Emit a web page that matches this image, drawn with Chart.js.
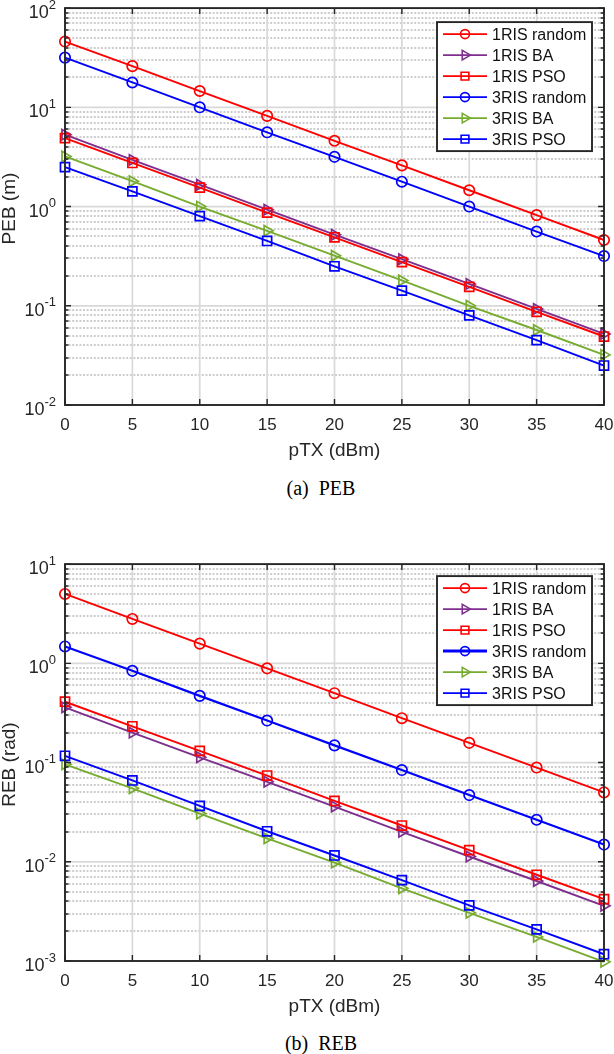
<!DOCTYPE html>
<html><head><meta charset="utf-8">
<script src="https://cdn.jsdelivr.net/npm/chart.js@4.4.0/dist/chart.umd.min.js"></script>
<style>
html,body{margin:0;padding:0;background:#fff;}
#wrap{position:relative;width:614px;height:1054px;overflow:hidden;background:#fff;}
.c{position:absolute;left:0;width:614px;height:470px;}
.cap{position:absolute;left:0;width:642px;text-align:center;font-family:"Liberation Serif","Times New Roman",serif;font-size:20px;color:#000;white-space:pre;}
</style></head><body>
<div id="wrap">
<div class="c" style="top:0"><canvas id="c1" width="614" height="470"></canvas></div>
<div class="cap" style="top:477px">(a)  PEB</div>
<div class="c" style="top:556px"><canvas id="c2" width="614" height="470"></canvas></div>
<div class="cap" style="top:1032px">(b)  REB</div>
</div>
<script>
// ---------- data ----------
const pTX = [0, 5, 10, 15, 20, 25, 30, 35, 40];
const xTicks = [0, 5, 10, 15, 20, 25, 30, 35, 40];
const xTitle = 'pTX (dBm)';
const seriesNames = ['1RIS random', '1RIS BA', '1RIS PSO', '3RIS random', '3RIS BA', '3RIS PSO'];

const peb1RISrandom = [46, 26, 14.6, 8.2, 4.6, 2.6, 1.46, 0.82, 0.46];
const peb1RISBA     = [5.3, 2.95, 1.66, 0.93, 0.52, 0.295, 0.166, 0.093, 0.052];
const peb1RISPSO    = [4.9, 2.75, 1.55, 0.87, 0.49, 0.275, 0.155, 0.087, 0.049];
const peb3RISrandom = [31.7, 17.8, 10.0, 5.6, 3.17, 1.78, 1.0, 0.56, 0.317];
const peb3RISBA     = [3.2, 1.8, 1.0, 0.57, 0.32, 0.18, 0.1, 0.057, 0.032];
const peb3RISPSO    = [2.5, 1.42, 0.8, 0.45, 0.25, 0.142, 0.08, 0.045, 0.025];

const reb1RISrandom = [5.0, 2.8, 1.58, 0.89, 0.5, 0.28, 0.158, 0.089, 0.05];
const reb1RISBA     = [0.36, 0.2, 0.113, 0.064, 0.036, 0.02, 0.0113, 0.0064, 0.0036];
const reb1RISPSO    = [0.41, 0.232, 0.131, 0.074, 0.041, 0.0232, 0.0131, 0.0074, 0.0042];
const reb3RISrandom = [1.48, 0.84, 0.47, 0.265, 0.149, 0.084, 0.047, 0.0265, 0.0149];
const reb3RISBA     = [0.096, 0.055, 0.0306, 0.0172, 0.0098, 0.0054, 0.00306, 0.00175, 0.00098];
const reb3RISPSO    = [0.117, 0.066, 0.0366, 0.0203, 0.01157, 0.00653, 0.00363, 0.00208, 0.00117];

const pebYExponents = [-2, -1, 0, 1, 2];
const rebYExponents = [-3, -2, -1, 0, 1];

// ---------- styles ----------
const FONT = '"Liberation Sans", Arial, Helvetica, sans-serif';
const INK = '#262626';
const seriesColors  = ['#FF0000', '#7E2F8E', '#FF0000', '#0000FF', '#77AC30', '#0000FF'];
const seriesMarkers = ['circle', 'triangle', 'rect', 'circle', 'triangle', 'rect'];
const seriesRadius  = [5.2, 6, 6.4, 5.2, 6, 6.4];

function buildDatasets(valueLists, lineWidths) {
  return valueLists.map((vals, i) => ({
    label: seriesNames[i],
    data: pTX.map((x, j) => ({ x: x, y: vals[j] })),
    borderColor: seriesColors[i],
    backgroundColor: 'rgba(0,0,0,0)',
    borderWidth: lineWidths[i],
    pointStyle: seriesMarkers[i],
    pointRotation: seriesMarkers[i] === 'triangle' ? 90 : 0,
    pointRadius: seriesRadius[i],
    pointBorderWidth: 1.7,
    pointBorderColor: seriesColors[i],
    pointBackgroundColor: 'rgba(0,0,0,0)',
    tension: 0,
    clip: false,
    order: valueLists.length - 1 - i
  }));
}

function drawMarker(ctx, style, cx, cy, r, color) {
  ctx.save();
  ctx.strokeStyle = color; ctx.lineWidth = 1.6; ctx.setLineDash([]);
  ctx.beginPath();
  if (style === 'circle') ctx.arc(cx, cy, r, 0, Math.PI * 2);
  else if (style === 'rect') { const s = r * Math.SQRT1_2; ctx.rect(cx - s, cy - s, 2 * s, 2 * s); }
  else { ctx.moveTo(cx + r, cy); ctx.lineTo(cx - r / 2, cy - r * 0.866); ctx.lineTo(cx - r / 2, cy + r * 0.866); ctx.closePath(); }
  ctx.stroke();
  ctx.restore();
}

const matlabAxes = {
  id: 'matlabAxes',
  beforeDatasetsDraw(chart, args, o) {
    const ctx = chart.ctx, a = chart.chartArea, xs = chart.scales.x, ys = chart.scales.y;
    ctx.save();
    ctx.beginPath(); ctx.rect(a.left, a.top, a.right - a.left, a.bottom - a.top); ctx.clip();
    // minor dotted y grid
    ctx.strokeStyle = '#bdbdbd'; ctx.lineWidth = 1.5; ctx.setLineDash([2, 1.6]);
    for (let e = o.expMin; e < o.expMax; e++) {
      for (let k = 2; k <= 9; k++) {
        const py = Math.round(ys.getPixelForValue(k * Math.pow(10, e)));
        ctx.beginPath(); ctx.moveTo(a.left, py); ctx.lineTo(a.right, py); ctx.stroke();
      }
    }
    // major grid
    ctx.setLineDash([]); ctx.strokeStyle = '#d9d9d9'; ctx.lineWidth = 1.7;
    for (let e = o.expMin; e <= o.expMax; e++) {
      const py = ys.getPixelForValue(Math.pow(10, e));
      ctx.beginPath(); ctx.moveTo(a.left, py); ctx.lineTo(a.right, py); ctx.stroke();
    }
    xs.ticks.forEach(t => {
      const px = xs.getPixelForValue(t.value);
      ctx.beginPath(); ctx.moveTo(px, a.top); ctx.lineTo(px, a.bottom); ctx.stroke();
    });
    ctx.restore();
  },
  afterDatasetsDraw(chart, args, o) {
    const ctx = chart.ctx, a = chart.chartArea, xs = chart.scales.x, ys = chart.scales.y;
    ctx.save();
    // inward ticks
    ctx.strokeStyle = INK; ctx.lineWidth = 1.4; ctx.setLineDash([]);
    for (let e = o.expMin; e <= o.expMax; e++) {
      const py = ys.getPixelForValue(Math.pow(10, e));
      ctx.beginPath();
      ctx.moveTo(a.left, py); ctx.lineTo(a.left + 6, py);
      ctx.moveTo(a.right, py); ctx.lineTo(a.right - 6, py);
      ctx.stroke();
      if (e < o.expMax) {
        for (let k = 2; k <= 9; k++) {
          const my = Math.round(ys.getPixelForValue(k * Math.pow(10, e)));
          ctx.beginPath();
          ctx.moveTo(a.left, my); ctx.lineTo(a.left + 3.5, my);
          ctx.moveTo(a.right, my); ctx.lineTo(a.right - 3.5, my);
          ctx.stroke();
        }
      }
    }
    xs.ticks.forEach(t => {
      const px = xs.getPixelForValue(t.value);
      ctx.beginPath();
      ctx.moveTo(px, a.bottom); ctx.lineTo(px, a.bottom - 6);
      ctx.moveTo(px, a.top); ctx.lineTo(px, a.top + 6);
      ctx.stroke();
    });
    // box
    ctx.lineWidth = 1.9;
    ctx.strokeRect(a.left, a.top, a.right - a.left, a.bottom - a.top);
    // x tick labels (from the scale's ticks)
    ctx.fillStyle = INK;
    ctx.font = '17px ' + FONT; ctx.textAlign = 'center'; ctx.textBaseline = 'middle';
    xs.ticks.forEach(t => {
      ctx.fillText(String(t.value), xs.getPixelForValue(t.value), a.bottom + 20);
    });
    // x title
    ctx.font = '19px ' + FONT;
    ctx.fillText(o.xTitle, (a.left + a.right) / 2, a.bottom + 46);
    // y tick labels 10^e
    o.exps.forEach(e => {
      const py = ys.getPixelForValue(Math.pow(10, e));
      const expStr = e < 0 ? '-' + Math.abs(e) : String(e);
      ctx.font = '13px ' + FONT;
      const ew = ctx.measureText(expStr).width;
      const right = a.left - 9;
      ctx.textAlign = 'left'; ctx.textBaseline = 'middle';
      ctx.fillText(expStr, right - ew, py - 3);
      ctx.font = '18px ' + FONT;
      ctx.textAlign = 'right';
      ctx.fillText('10', right - ew, py + 5);
    });
    // y title
    ctx.save();
    ctx.translate(10, (a.top + a.bottom) / 2 + 2);
    ctx.rotate(-Math.PI / 2);
    ctx.font = '19px ' + FONT; ctx.textAlign = 'center'; ctx.textBaseline = 'middle';
    ctx.fillText(o.yTitle, 0, 0);
    ctx.restore();
    // legend
    const lx = o.legendLeft, lw = o.legendWidth, rowH = 21;
    const ly = a.top + o.legendTopOffset;
    const n = chart.data.datasets.length;
    const lh = rowH * n + 3;
    ctx.fillStyle = '#fff';
    ctx.fillRect(lx, ly, lw, lh);
    ctx.strokeStyle = INK; ctx.lineWidth = 1.9;
    ctx.strokeRect(lx, ly, lw, lh);
    chart.data.datasets.forEach((ds, i) => {
      const cy = ly + 12 + i * rowH;
      ctx.strokeStyle = ds.borderColor; ctx.lineWidth = o.legendLineWidths[i];
      ctx.beginPath(); ctx.moveTo(lx + 6, cy); ctx.lineTo(lx + 50, cy); ctx.stroke();
      drawMarker(ctx, seriesMarkers[i], lx + 28, cy, seriesMarkers[i] === 'circle' ? 4.5 : 5.5, ds.borderColor);
      ctx.fillStyle = '#111'; ctx.font = '16px ' + FONT;
      ctx.textAlign = 'left'; ctx.textBaseline = 'middle';
      ctx.fillText(ds.label, lx + 55, cy + 1);
    });
    ctx.restore();
  }
};

function makeChart(id, valueLists, yMin, yMax, exps, yTitle, lineWidths, legendLineWidths, legendTopOffset) {
  return new Chart(document.getElementById(id), {
    type: 'line',
    data: { datasets: buildDatasets(valueLists, lineWidths) },
    plugins: [matlabAxes],
    options: {
      responsive: false,
      animation: false,
      events: [],
      layout: { padding: { top: 7, right: 10, left: 0, bottom: 0 } },
      plugins: {
        legend: { display: false },
        tooltip: { enabled: false },
        matlabAxes: {
          expMin: exps[0], expMax: exps[exps.length - 1], exps: exps, yTitle: yTitle, xTitle: xTitle,
          legendLeft: 437, legendWidth: 155, legendTopOffset: legendTopOffset,
          legendLineWidths: legendLineWidths
        }
      },
      scales: {
        x: {
          type: 'linear', min: 0, max: 40,
          afterBuildTicks: s => { s.ticks = xTicks.map(v => ({ value: v })); },
          afterFit: s => { s.height = 65; },
          ticks: { display: false },
          grid: { display: false },
          border: { display: false },
          title: { display: false }
        },
        y: {
          type: 'logarithmic', min: yMin, max: yMax,
          afterFit: s => { s.width = 65; },
          ticks: { display: false },
          grid: { display: false },
          border: { display: false }
        }
      }
    }
  });
}

makeChart('c1',
  [peb1RISrandom, peb1RISBA, peb1RISPSO, peb3RISrandom, peb3RISBA, peb3RISPSO],
  0.01, 100, pebYExponents, 'PEB (m)',
  [1.9, 1.9, 1.9, 1.9, 1.9, 1.9], [1.9, 1.9, 1.9, 1.9, 1.9, 1.9], 14);

makeChart('c2',
  [reb1RISrandom, reb1RISBA, reb1RISPSO, reb3RISrandom, reb3RISBA, reb3RISPSO],
  0.001, 10, rebYExponents, 'REB (rad)',
  [1.9, 1.9, 1.9, 2.2, 1.9, 1.9], [1.9, 1.9, 1.9, 3, 1.9, 1.9], 12);
</script>
</body></html>
